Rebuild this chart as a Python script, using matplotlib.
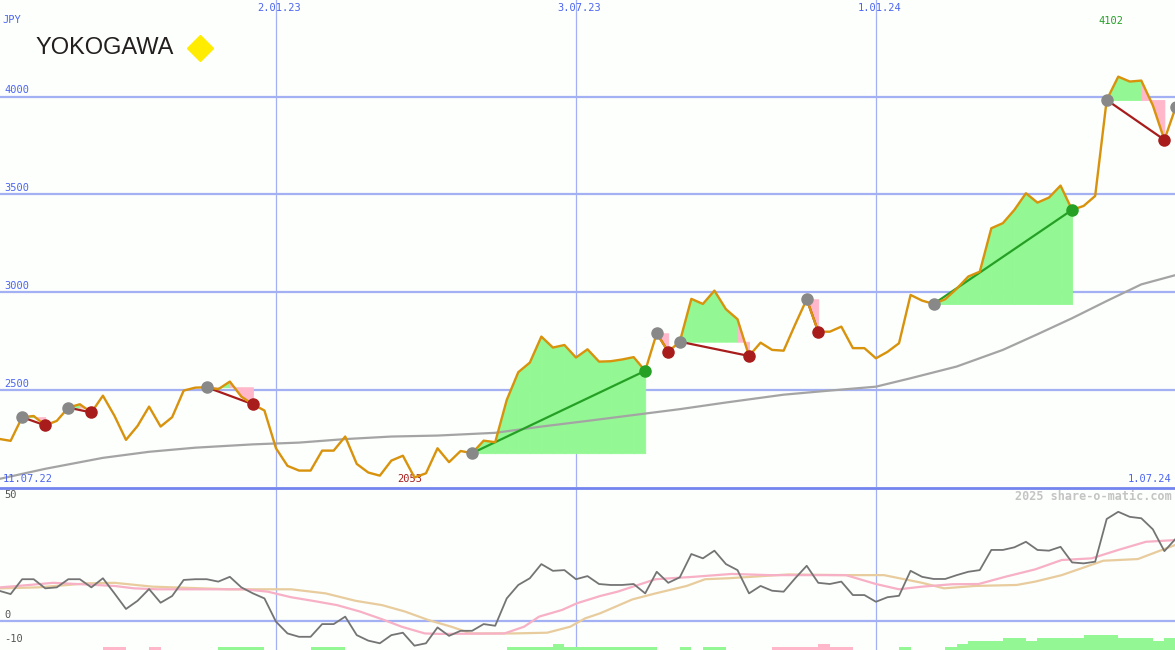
import matplotlib
matplotlib.use("Agg")
import matplotlib.pyplot as plt
import numpy as np

# weekly closes (JPY), week 0 = 11.07.22
weeks = np.arange(1, 104)
price = [2250, 2240, 2361, 2367, 2319, 2342, 2410, 2427, 2385, 2471,
         2368, 2245, 2316, 2415, 2313, 2361, 2497, 2512, 2514, 2504,
         2543, 2466, 2427, 2395, 2202, 2112, 2088, 2088, 2190, 2190,
         2262, 2122, 2078, 2062, 2139, 2164, 2053, 2074, 2202, 2131,
         2188, 2177, 2241, 2233, 2449, 2591, 2640, 2773, 2717, 2730,
         2666, 2708, 2645, 2647, 2656, 2668, 2598, 2790, 2696, 2747,
         2966, 2940, 3008, 2913, 2862, 2674, 2742, 2705, 2701, 2835,
         2964, 2798, 2798, 2824, 2714, 2714, 2662, 2695, 2739, 2986,
         2957, 2940, 2964, 3018, 3080, 3105, 3327, 3353, 3421, 3506,
         3458, 3484, 3545, 3421, 3441, 3492, 3983, 4102, 4077, 4082,
         3955, 3779, 3949]

# long moving average (gray)
ma_weeks = [1, 5, 10, 14, 18, 23, 27, 31, 35, 39, 44, 48, 52, 56, 60, 64,
            69, 73, 77, 80, 84, 88, 91, 94, 97, 100, 103]
ma_vals = [2045, 2097, 2153, 2184, 2205, 2222, 2231, 2249, 2262, 2267, 2281,
           2313, 2342, 2372, 2402, 2436, 2476, 2497, 2517, 2560, 2620, 2705,
           2785, 2867, 2955, 3040, 3088]

# signals: (entry week, exit week)
trades = [(3, 5), (7, 9), (19, 23), (42, 57), (58, 59), (60, 66), (71, 72),
          (82, 94), (97, 102)]
open_entry = 103

# lower panel oscillator
osc = [12.5, 11.1, 17.3, 17.3, 13.5, 13.9, 17.3, 17.3, 13.9, 17.7,
       11.4, 4.9, 8.3, 13.2, 7.5, 10.3, 17.0, 17.3, 17.3, 16.3,
       18.3, 13.9, 11.4, 9.3, -0.4, -5.3, -6.7, -6.7, -1.4, -1.4,
       1.7, -6.0, -8.3, -9.4, -6.0, -5.0, -10.4, -9.4, -2.8, -6.3,
       -4.2, -4.2, -1.4, -2.1, 9.3, 14.9, 17.7, 23.6, 20.8, 21.1,
       17.3, 18.6, 15.3, 14.9, 14.9, 15.3, 11.4, 20.4, 15.8, 18.1,
       27.8, 26.0, 29.2, 23.6, 21.1, 11.4, 14.5, 12.5, 12.1, 17.7,
       22.9, 15.8, 15.3, 16.3, 10.7, 10.7, 7.9, 9.8, 10.4, 20.8,
       18.3, 17.4, 17.4, 19.0, 20.4, 21.1, 29.5, 29.5, 30.6, 32.9,
       29.5, 29.2, 30.8, 24.3, 23.9, 24.6, 42.4, 45.4, 43.3, 42.7,
       38.1, 29.0, 34.3]

sig_weeks = [1.1, 3.6, 5.7, 11.0, 12.7, 14.7, 22.3, 24.3, 26.3, 28.3,
             30.3, 32.3, 34.2, 35.9, 37.9, 39.2, 44.8, 46.5, 47.8, 49.8,
             51.1, 53.1, 54.6, 57.9, 61.2, 64.5, 67.8, 74.4, 77.0, 79.0,
             81.0, 83.6, 85.9, 88.2, 90.8, 93.1, 95.7, 98.0, 100.4, 102.9]
sig_vals = [13.9, 14.9, 15.8, 14.5, 13.5, 13.1, 13.1, 12.1, 9.8, 8.2,
            6.5, 3.8, 0.6, -2.5, -5.3, -5.5, -5.3, -2.5, 1.7, 4.5,
            7.3, 10.3, 12.1, 17.3, 18.3, 19.5, 19.0, 19.0, 15.3, 13.1,
            14.2, 15.2, 15.3, 18.3, 21.4, 25.3, 26.0, 29.5, 32.9, 33.6]

slow_weeks = [1.1, 4.4, 8.7, 11.0, 14.3, 21.0, 26.3, 29.3, 31.9, 34.2,
              36.2, 38.2, 40.2, 41.9, 45.5, 48.5, 50.5, 51.8, 53.1, 55.9,
              57.9, 60.6, 62.2, 64.2, 66.2, 69.4, 74.4, 77.7, 81.0, 82.9,
              85.6, 89.2, 90.8, 93.1, 96.7, 99.7, 101.4, 102.9]
slow_vals = [13.5, 13.9, 15.6, 15.8, 14.2, 13.1, 13.1, 11.4, 8.3, 6.5,
             3.8, 0.3, -2.5, -5.3, -5.3, -5.0, -2.5, 1.0, 3.1, 8.9,
             11.4, 14.5, 17.3, 17.7, 18.3, 19.3, 19.0, 19.0, 15.8, 13.5,
             14.5, 14.9, 16.3, 19.0, 25.0, 25.7, 28.8, 31.5]

# weekly bars at the bottom (weeks 1..102)
bar_vals = [0, 0, 0, 0, 0, 0, 0, 0, 0, -1.4,
            -1.4, 0, 0, -1.4, 0, 0, 0, 0, 0, 1.4,
            1.4, 1.4, 1.4, 0, 0, 0, 0, 1.4, 1.4, 1.4,
            0, 0, 0, 0, 0, 0, 0, 0, 0, 0,
            0, 0, 0, 0, 1.4, 1.4, 1.4, 1.4, 2.5, 1.4,
            1.4, 1.4, 1.4, 1.4, 1.4, 1.4, 1.4, 0, 0, 1.4,
            0, 1.4, 1.4, 0, 0, 0, 0, -1.4, -1.4, -1.4,
            -1.4, -2.5, -1.4, -1.4, 0, 0, 0, 0, 1.4, 0,
            0, 0, 1.4, 2.5, 3.6, 3.6, 3.6, 5.0, 5.0, 3.6,
            5.0, 5.0, 5.0, 5.0, 6.3, 6.3, 6.3, 5.0, 5.0, 5.0,
            3.6, 5.0]

grid_levels = [2500, 3000, 3500, 4000]
date_weeks = [25, 51, 77]
date_labels = ["2.01.23", "3.07.23", "1.01.24"]

BG = "#fcfffc"
GRID = "#a3b1f4"
BLUE = "#4c64f2"
ORANGE = "#d8920c"
GREEN_FILL = "#93f893"
PINK_FILL = "#ffb7c9"
DARK_RED = "#a81c1c"
GREEN = "#25a025"
MONO = "DejaVu Sans Mono"


def main():
    fig = plt.figure(figsize=(11.75, 6.5), dpi=100, facecolor=BG)
    ax = fig.add_axes([0, 1 - 487 / 650, 1, 487 / 650])
    ax2 = fig.add_axes([0, 0, 1, 161 / 650])
    for a in (ax, ax2):
        a.set_axis_off()
        a.set_xlim(1.08, 102.92)
    ax.set_ylim(2004, 4494)
    ax2.set_ylim(-12.2, 54.9)

    # grid
    for lvl in grid_levels:
        ax.axhline(lvl, color=GRID, lw=1.6, zorder=1)
        ax.text(0.004, lvl + 6, str(lvl), transform=ax.get_yaxis_transform(),
                va="bottom", ha="left", color=BLUE, fontsize=7.5, family=MONO)
    for k, lab in zip(date_weeks, date_labels):
        ax.axvline(k, color=GRID, lw=0.9, zorder=1)
        ax2.axvline(k, color=GRID, lw=0.9, zorder=1)
        ax.text(k + 0.3, 1 - 8 / 487, lab, transform=ax.get_xaxis_transform(),
                ha="center", va="center", color=BLUE, fontsize=7.5, family=MONO)
    ax2.axhline(0, color=GRID, lw=1.6, zorder=1)
    fig.add_artist(plt.Line2D([0, 1], [1 - 488 / 650] * 2, color="#7384ee", lw=2))

    # trade areas
    for e, x in trades:
        base = price[e - 1]
        for i in range(e, x):
            col = GREEN_FILL if price[i] >= base else PINK_FILL
            ax.fill_between([i, i + 1], [price[i - 1], price[i]], base,
                            color=col, lw=0.6, edgecolor=col, zorder=2)

    ax.plot(ma_weeks, ma_vals, color="#a4a4a4", lw=1.6, zorder=3)

    for e, x in trades:
        win = price[x - 1] >= price[e - 1]
        ax.plot([e, x], [price[e - 1], price[x - 1]], color=GREEN if win else DARK_RED,
                lw=1.6, zorder=4)

    ax.plot(weeks, price, color=ORANGE, lw=1.7, zorder=5)

    for e, x in trades:
        win = price[x - 1] >= price[e - 1]
        ax.plot(e, price[e - 1], "o", color="#888888", ms=8, zorder=6)
        ax.plot(x, price[x - 1], "o", color=GREEN if win else DARK_RED, ms=8, zorder=6)
    ax.plot(open_entry, price[open_entry - 1], "o", color="#888888", ms=8, zorder=6)

    # high / low labels
    imax = int(np.argmax(price))
    imin = int(np.argmin(price))
    ax.annotate(str(price[imax]), xy=(weeks[imax], price[imax]), xytext=(-5, 40),
                textcoords="offset points", ha="center", va="center",
                color=GREEN, fontsize=7.5, family=MONO)
    ax.annotate(str(price[imin]), xy=(weeks[imin], price[imin]), xytext=(-3.6, -1),
                textcoords="offset points", ha="center", va="center",
                color=DARK_RED, fontsize=7.5, family=MONO)

    ax.text(0.002, 1 - 20 / 487, "JPY", transform=ax.transAxes, ha="left",
            va="center", color=BLUE, fontsize=7.5, family=MONO)
    ax.text(0.002, 8 / 487, "11.07.22", transform=ax.transAxes, ha="left",
            va="center", color=BLUE, fontsize=7.5, family=MONO)
    ax.text(0.997, 8 / 487, "1.07.24", transform=ax.transAxes, ha="right",
            va="center", color=BLUE, fontsize=7.5, family=MONO)

    # logo
    fig.text(36 / 1175, 1 - 48 / 650, "YOKOGAWA", ha="left", va="center",
             fontsize=17, family="Liberation Sans", color="#231f20")
    ax.plot([200 / 1175], [1 - 48 / 650], marker="D", ms=13, color="#ffec00",
            transform=fig.transFigure, clip_on=False, zorder=7)

    # lower panel
    bars = np.array(bar_vals)
    ax2.bar(np.arange(1, len(bars) + 1), np.abs(bars), bottom=-12.2, width=1,
            align="edge", color=np.where(bars >= 0, GREEN_FILL, PINK_FILL), zorder=2)
    ax2.plot(slow_weeks, slow_vals, color="#e8cc9e", lw=1.6, zorder=3)
    ax2.plot(sig_weeks, sig_vals, color="#f7b0c6", lw=1.6, zorder=3)
    ax2.plot(weeks, osc, color="#747474", lw=1.3, zorder=4)

    for v in [50, 0, -10]:
        ax2.text(0.004, v + 0.5, str(v), transform=ax2.get_yaxis_transform(),
                 ha="left", va="bottom", color="#555555", fontsize=7.5, family=MONO)
    ax2.text(0.997, 1 - 7 / 161, "2025 share-o-matic.com", transform=ax2.transAxes,
             ha="right", va="center", color="#c4c4c4", fontsize=8.5,
             family=MONO, fontweight="bold")

    fig.savefig("out.png", dpi=100, facecolor=BG)


if __name__ == "__main__":
    main()
